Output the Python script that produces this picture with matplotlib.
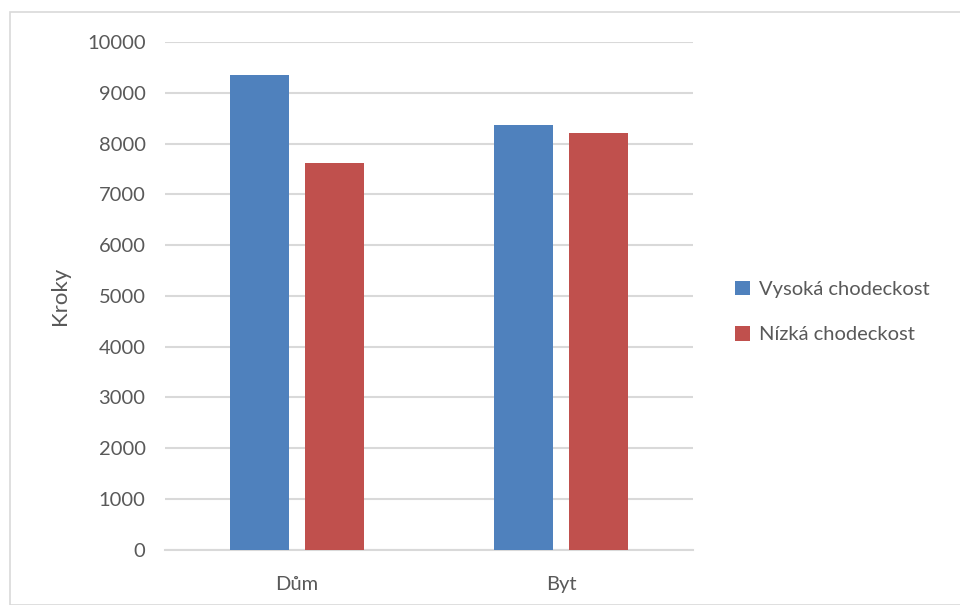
import matplotlib.pyplot as plt
import numpy as np
from matplotlib.patches import Rectangle

categories = ["Dům", "Byt"]
high_walk = [9350, 8360]
low_walk = [7610, 8210]
series_labels = ["Vysoká chodeckost", "Nízká chodeckost"]
yticks = [0, 1000, 2000, 3000, 4000, 5000, 6000, 7000, 8000, 9000, 10000]

BLUE = "#4F81BD"
RED = "#C0504D"
GRID = "#D9D9D9"
TEXT = "#595959"

plt.rcParams["font.family"] = ["Lato", "DejaVu Sans"]

fig = plt.figure(figsize=(9.6, 6.05), dpi=100)
ax = fig.add_axes([165 / 960, 1 - 549.7 / 605, (693 - 165) / 960, (549.7 - 42) / 605])

x = np.arange(len(categories))
width = 0.223
offset = 0.142
ax.bar(x - offset, high_walk, width, color=BLUE, label=series_labels[0], zorder=3)
ax.bar(x + offset, low_walk, width, color=RED, label=series_labels[1], zorder=3)

ax.set_xlim(-0.5, 1.5)
ax.set_ylim(0, 10000)
ax.set_yticks(yticks)
ax.set_yticklabels([str(t) for t in yticks])
ax.set_xticks(x)
ax.set_xticklabels(categories)
ax.yaxis.grid(True, color=GRID, linewidth=1.5, zorder=0)
for side in ["top", "right", "left"]:
    ax.spines[side].set_visible(False)
ax.spines["bottom"].set_color(GRID)
ax.spines["bottom"].set_linewidth(1.5)
ax.tick_params(axis="both", length=0, labelsize=14.5, colors=TEXT)
ax.tick_params(axis="y", pad=14)
ax.tick_params(axis="x", pad=19)

fig.text(60 / 960, 1 - 296 / 605, "Kroky", rotation=90, fontsize=16,
         color=TEXT, ha="center", va="center")

ax.legend(
    loc="center left",
    bbox_to_anchor=(735 / 960, 1 - 312 / 605),
    bbox_transform=fig.transFigure,
    frameon=False,
    borderpad=0,
    borderaxespad=0,
    fontsize=14.5,
    labelcolor=TEXT,
    handlelength=0.75,
    handleheight=0.75,
    handletextpad=0.45,
    labelspacing=1.4,
)

fig.patches.append(
    Rectangle((10 / 960, 0), 1.0, 1 - 12 / 605, transform=fig.transFigure,
              fill=False, edgecolor=GRID, linewidth=1.2)
)

fig.savefig("out.png", dpi=100)
